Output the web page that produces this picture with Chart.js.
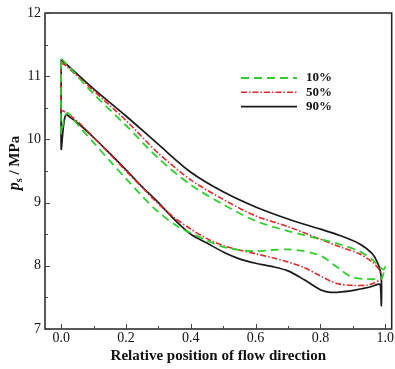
<!DOCTYPE html>
<html>
<head>
<meta charset="utf-8">
<script src="https://cdn.jsdelivr.net/npm/chart.js@4"></script>
<style>
  html, body { margin: 0; padding: 0; background: #fff; }
  #wrap { width: 395px; height: 369px; }
</style>
</head>
<body>
<div id="wrap"><canvas id="chart"></canvas></div>
<script>
// each blade section is one closed loop: pressure side, trailing edge, suction side, leading edge
const labels = ['10%', '50%', '90%'];

const x10 = [0, 0.02, 0.1, 0.2, 0.3, 0.4, 0.5, 0.6, 0.7, 0.8, 0.86, 0.92, 0.96, 0.98, 0.995, 1.0, 0.99, 0.985, 0.94, 0.9, 0.88, 0.86, 0.84, 0.82, 0.8, 0.77, 0.74, 0.7, 0.65, 0.6, 0.55, 0.5, 0.45, 0.4, 0.36, 0.3, 0.25, 0.2, 0.15, 0.1, 0.06, 0.04, 0.02, 0.01, 0, 0];
const p10 = [11.28, 11.17, 10.72, 10.22, 9.70, 9.28, 8.97, 8.71, 8.55, 8.42, 8.34, 8.23, 8.10, 8.00, 7.94, 7.98, 7.80, 7.79, 7.79, 7.82, 7.87, 7.95, 8.02, 8.10, 8.16, 8.21, 8.24, 8.26, 8.25, 8.23, 8.25, 8.30, 8.40, 8.52, 8.62, 8.85, 9.10, 9.38, 9.66, 9.95, 10.18, 10.30, 10.42, 10.35, 10.10, 11.28];

const x50 = [0, 0.02, 0.1, 0.2, 0.3, 0.4, 0.5, 0.6, 0.7, 0.8, 0.86, 0.92, 0.96, 0.98, 0.99, 0.985, 0.95, 0.9, 0.86, 0.83, 0.8, 0.75, 0.7, 0.65, 0.6, 0.55, 0.5, 0.45, 0.4, 0.35, 0.3, 0.25, 0.2, 0.15, 0.1, 0.06, 0.03, 0.02, 0.01, 0, 0];
const p50 = [11.22, 11.14, 10.77, 10.30, 9.78, 9.36, 9.05, 8.79, 8.62, 8.42, 8.30, 8.19, 8.06, 7.95, 7.82, 7.78, 7.70, 7.69, 7.71, 7.76, 7.84, 7.97, 8.06, 8.13, 8.19, 8.25, 8.32, 8.43, 8.58, 8.76, 8.98, 9.24, 9.50, 9.77, 10.03, 10.24, 10.37, 10.41, 10.44, 10.47, 11.22];

const x90 = [0, 0.02, 0.1, 0.2, 0.3, 0.4, 0.5, 0.6, 0.7, 0.8, 0.86, 0.92, 0.96, 0.98, 0.988, 0.988, 0.985, 0.98, 0.95, 0.91, 0.87, 0.83, 0.8, 0.75, 0.7, 0.65, 0.6, 0.55, 0.5, 0.45, 0.4, 0.35, 0.3, 0.25, 0.2, 0.15, 0.1, 0.06, 0.03, 0.015, 0.008, 0.004, 0, 0];
const p90 = [11.26, 11.17, 10.80, 10.37, 9.92, 9.48, 9.17, 8.93, 8.74, 8.58, 8.48, 8.35, 8.19, 8.00, 7.80, 7.37, 7.70, 7.71, 7.66, 7.62, 7.59, 7.58, 7.62, 7.78, 7.92, 7.99, 8.04, 8.11, 8.22, 8.36, 8.50, 8.73, 9.00, 9.25, 9.52, 9.78, 10.03, 10.22, 10.34, 10.39, 10.25, 10.05, 9.85, 11.26];

const xTicks = [0, 0.2, 0.4, 0.6, 0.8, 1.0];
const xMinor = [0.1, 0.3, 0.5, 0.7, 0.9];
const yTicks = [7, 8, 9, 10, 11, 12];
const yMinor = [7.5, 8.5, 9.5, 10.5, 11.5];

const serif = "'Liberation Serif', 'Times New Roman', serif";

function toPoints(xs, ys) {
    return xs.map((x, i) => ({ x: x, y: ys[i] }));
}

// frame, inward ticks, legend and axis titles
const decor = {
    id: 'decor',
    afterDraw(chart) {
        const ctx = chart.ctx;
        const a = chart.chartArea;
        const xs = chart.scales.x, ys = chart.scales.y;
        ctx.save();
        ctx.strokeStyle = '#222';
        ctx.lineWidth = 1.5;
        ctx.strokeRect(a.left, a.top, a.right - a.left, a.bottom - a.top);

        ctx.lineWidth = 1;
        ctx.strokeStyle = '#444';
        ctx.beginPath();
        xTicks.forEach(v => { const p = Math.round(xs.getPixelForValue(v)) + 0.5; ctx.moveTo(p, a.bottom); ctx.lineTo(p, a.bottom - 5); });
        xMinor.forEach(v => { const p = Math.round(xs.getPixelForValue(v)) + 0.5; ctx.moveTo(p, a.bottom); ctx.lineTo(p, a.bottom - 3); });
        yTicks.forEach(v => { const p = Math.round(ys.getPixelForValue(v)) + 0.5; ctx.moveTo(a.left, p); ctx.lineTo(a.left + 5, p); });
        yMinor.forEach(v => { const p = Math.round(ys.getPixelForValue(v)) + 0.5; ctx.moveTo(a.left, p); ctx.lineTo(a.left + 3, p); });
        ctx.stroke();

        // legend
        chart.data.datasets.forEach((ds, i) => {
            const y = 78 + i * 14.3;
            ctx.strokeStyle = ds.borderColor;
            ctx.lineWidth = ds.borderWidth;
            ctx.setLineDash(ds.borderDash || []);
            ctx.beginPath();
            ctx.moveTo(241, y);
            ctx.lineTo(297, y);
            ctx.stroke();
            ctx.setLineDash([]);
            ctx.fillStyle = '#111';
            ctx.font = 'bold 13px ' + serif;
            ctx.textBaseline = 'middle';
            ctx.textAlign = 'left';
            ctx.fillText(ds.label, 306, y);
        });

        // x title
        ctx.fillStyle = '#111';
        ctx.font = 'bold 15px ' + serif;
        ctx.textAlign = 'center';
        ctx.textBaseline = 'middle';
        ctx.fillText('Relative position of flow direction', (a.left + a.right) / 2, 356);

        // y title with subscript
        ctx.translate(15, 163);
        ctx.rotate(-Math.PI / 2);
        ctx.textAlign = 'left';
        ctx.textBaseline = 'middle';
        const f1 = 'italic bold 16px ' + serif, f2 = 'bold 10px ' + serif, f3 = 'bold 15px ' + serif;
        ctx.font = f1; const w1 = ctx.measureText('p').width;
        ctx.font = f2; const w2 = ctx.measureText('s').width;
        ctx.font = f3; const w3 = ctx.measureText(' / MPa').width;
        let x0 = -(w1 + w2 + w3) / 2;
        ctx.font = f1; ctx.fillText('p', x0, 0);
        ctx.font = f2; ctx.fillText('s', x0 + w1, 4);
        ctx.font = f3; ctx.fillText(' / MPa', x0 + w1 + w2, 0);
        ctx.restore();
    }
};

new Chart(document.getElementById('chart'), {
    type: 'scatter',
    data: {
        datasets: [
            { label: labels[0], data: toPoints(x10, p10), borderColor: '#2fcf2f', borderWidth: 1.8, borderDash: [8, 5] },
            { label: labels[1], data: toPoints(x50, p50), borderColor: '#dd2a2a', borderWidth: 1.6, borderDash: [6, 2, 1.5, 2] },
            { label: labels[2], data: toPoints(x90, p90), borderColor: '#1a1a1a', borderWidth: 1.7 }
        ].map(ds => Object.assign(ds, { showLine: true, pointRadius: 0, tension: 0.3, fill: false }))
    },
    options: {
        responsive: true,
        maintainAspectRatio: false,
        animation: false,
        layout: { padding: { top: 13, right: 2, left: 0, bottom: 0 } },
        plugins: { legend: { display: false }, tooltip: { enabled: false } },
        scales: {
            x: {
                type: 'linear',
                min: -0.05,
                max: 1.02,
                afterFit: s => { s.height = 40; },
                afterBuildTicks: s => { s.ticks = xTicks.map(v => ({ value: v })); },
                grid: { display: false, drawTicks: false, tickLength: 0 },
                border: { display: false },
                ticks: {
                    color: '#111',
                    padding: 1,
                    font: { family: serif, size: 14 },
                    callback: v => Number(v).toFixed(1)
                }
            },
            y: {
                type: 'linear',
                min: 7,
                max: 12,
                afterFit: s => { s.width = 45; },
                afterBuildTicks: s => { s.ticks = yTicks.map(v => ({ value: v })); },
                grid: { display: false, drawTicks: false, tickLength: 0 },
                border: { display: false },
                ticks: {
                    color: '#111',
                    padding: 4,
                    font: { family: serif, size: 14 }
                }
            }
        }
    },
    plugins: [decor]
});
</script>
</body>
</html>
